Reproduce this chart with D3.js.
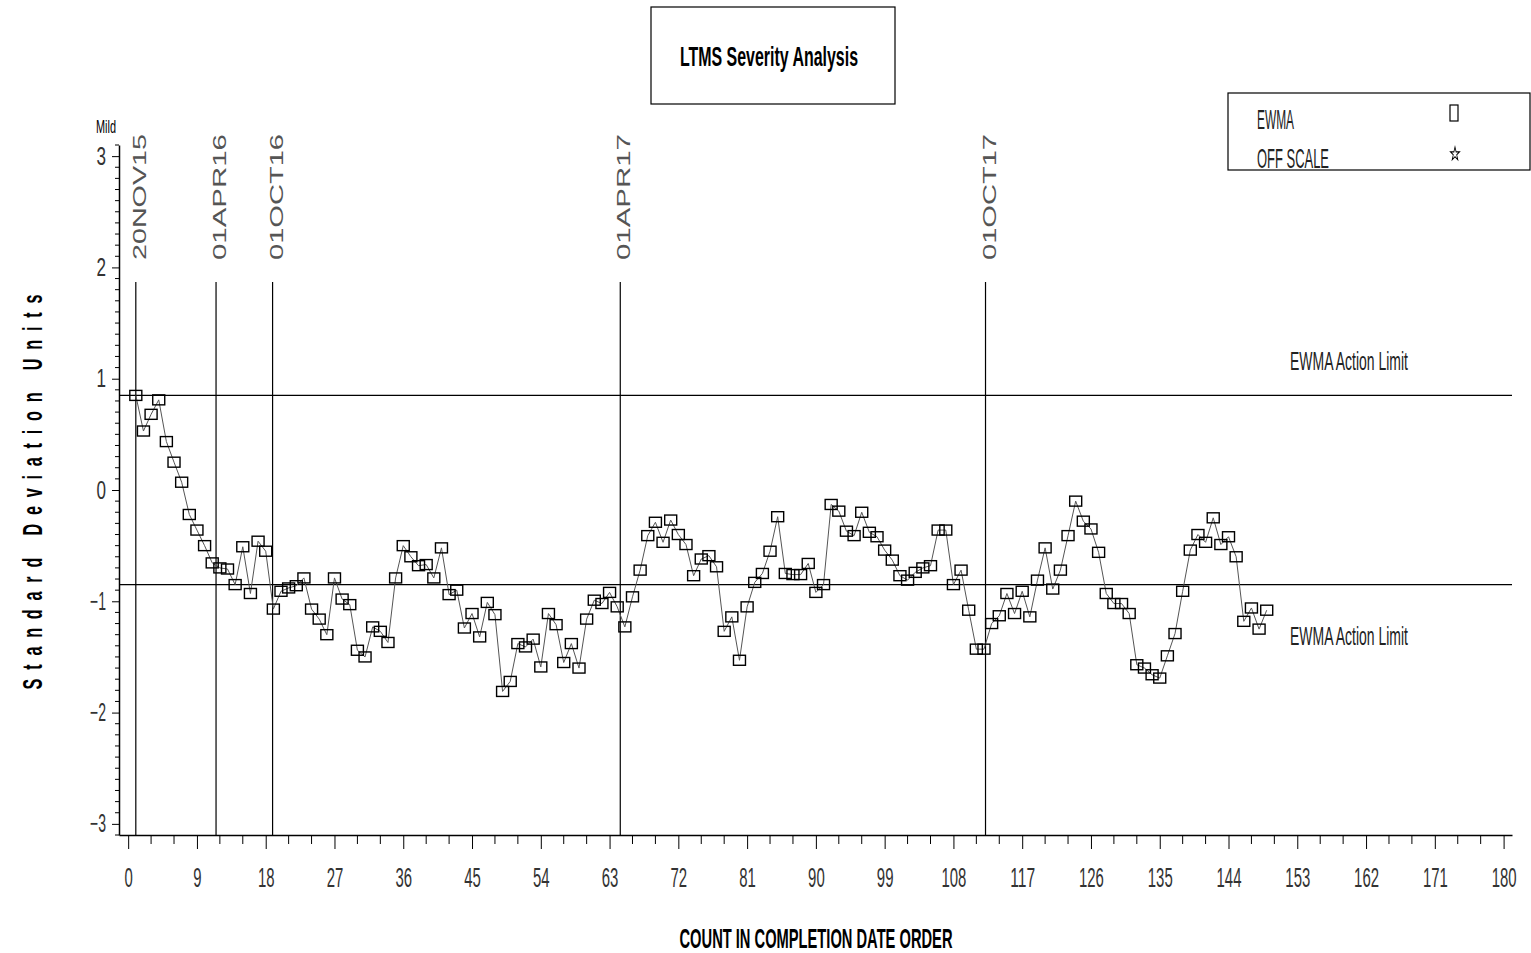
<!DOCTYPE html>
<html>
<head>
<meta charset="utf-8">
<script src="https://cdn.jsdelivr.net/npm/d3@7"></script>
<style>
  body { margin: 0; background: #fff; }
  text { font-family: "Liberation Sans", Arial, sans-serif; }
</style>
</head>
<body>
<div id="chart"></div>
<script>
const width = 1531
const height = 953

// EWMA values, count 1..149 in completion date order
const ewma = [
  0.85, 0.53, 0.68, 0.81, 0.435, 0.25, 0.07, -0.22, -0.36, -0.50,
  -0.655, -0.70, -0.71, -0.85, -0.51, -0.93, -0.46, -0.55, -1.07, -0.91,
  -0.88, -0.86, -0.79, -1.07, -1.16, -1.30, -0.79, -0.98, -1.03, -1.44,
  -1.50, -1.23, -1.27, -1.37, -0.79, -0.50, -0.60, -0.68, -0.67, -0.79,
  -0.52, -0.94, -0.90, -1.24, -1.11, -1.32, -1.01, -1.12, -1.81, -1.72,
  -1.38, -1.41, -1.34, -1.59, -1.11, -1.21, -1.55, -1.38, -1.60, -1.16,
  -0.99, -1.02, -0.92, -1.05, -1.23, -0.96, -0.72, -0.41, -0.29, -0.47,
  -0.27, -0.40, -0.49, -0.77, -0.62, -0.59, -0.69, -1.27, -1.14, -1.53,
  -1.05, -0.83, -0.75, -0.55, -0.24, -0.75, -0.76, -0.76, -0.66, -0.92,
  -0.85, -0.13, -0.19, -0.37, -0.41, -0.20, -0.38, -0.42, -0.54, -0.63,
  -0.77, -0.81, -0.74, -0.70, -0.68, -0.36, -0.36, -0.85, -0.72, -1.08,
  -1.43, -1.43, -1.20, -1.13, -0.93, -1.11, -0.91, -1.14, -0.81, -0.52,
  -0.89, -0.72, -0.41, -0.10, -0.28, -0.35, -0.56, -0.93, -1.02, -1.02,
  -1.11, -1.57, -1.60, -1.66, -1.69, -1.49, -1.29, -0.91, -0.54, -0.40,
  -0.47, -0.25, -0.49, -0.42, -0.60, -1.18, -1.06, -1.25, -1.08
]

// date markers (position in count units)
const dateLabels = ["20NOV15", "01APR16", "01OCT16", "01APR17", "01OCT17"]
const datePos = [1, 11.5, 18.9, 64.4, 112.2]

const actionLimits = [0.85, -0.85]
const xTicks = d3.range(0, 181, 9)
const xMinor = d3.range(0, 181, 3)
const yTicks = [-3, -2, -1, 0, 1, 2, 3]
const yMinor = d3.range(-31, 32).map(d => d / 10)

const svg = d3.select("#chart").append("svg").attr("width", width).attr("height", height)

const x = d3.scaleLinear().domain([-1.2, 181.1]).range([119, 1512])
const y = d3.scaleLinear().domain([-3.1, 3.1]).range([835, 145])

// title box
svg.append("rect").attr("x", 651).attr("y", 7).attr("width", 244).attr("height", 97)
  .attr("fill", "none").attr("stroke", "#000").attr("stroke-width", 1.2)
svg.append("text").attr("x", 769).attr("y", 66).attr("text-anchor", "middle")
  .attr("font-size", 28).attr("font-weight", "bold")
  .attr("textLength", 178).attr("lengthAdjust", "spacingAndGlyphs")
  .text("LTMS Severity Analysis")

// legend
svg.append("rect").attr("x", 1228).attr("y", 93).attr("width", 302).attr("height", 77)
  .attr("fill", "none").attr("stroke", "#000").attr("stroke-width", 1.2)
svg.append("text").attr("x", 1257).attr("y", 129).attr("font-size", 28).attr("fill", "#222")
  .attr("textLength", 37).attr("lengthAdjust", "spacingAndGlyphs").text("EWMA")
svg.append("text").attr("x", 1257).attr("y", 168).attr("font-size", 28).attr("fill", "#222")
  .attr("textLength", 72).attr("lengthAdjust", "spacingAndGlyphs").text("OFF SCALE")
svg.append("rect").attr("x", 1450).attr("y", 105).attr("width", 8).attr("height", 16)
  .attr("fill", "none").attr("stroke", "#000").attr("stroke-width", 1.2)
svg.append("path").attr("d", d3.symbol(d3.symbolStar, 40)())
  .attr("transform", "translate(1455,154) scale(0.8,1.2)")
  .attr("fill", "none").attr("stroke", "#000").attr("stroke-width", 1)

// axes
const xAxis = d3.axisBottom(x).tickValues(xTicks).tickSize(14).tickSizeOuter(0).tickFormat(d3.format("d"))
const xAxisGroup = svg.append("g").attr("transform", `translate(0, ${y(-3.1)})`).call(xAxis)
xAxisGroup.selectAll(".tick text")
  .attr("y", 52).attr("dy", 0).attr("font-size", 27).attr("fill", "#333")
  .attr("font-family", "Liberation Sans, Arial, sans-serif")
  .attr("textLength", d => String(d).length * 8.3).attr("lengthAdjust", "spacingAndGlyphs")
xAxisGroup.append("g").selectAll("line").data(xMinor.filter(d => d % 9 !== 0)).join("line")
  .attr("x1", d => x(d)).attr("x2", d => x(d)).attr("y1", 0).attr("y2", 9).attr("stroke", "#000")

const yAxis = d3.axisLeft(y).tickValues(yTicks).tickSize(7).tickSizeOuter(0)
  .tickFormat(d => d < 0 ? "\u2212" + Math.abs(d) : d)
const yAxisGroup = svg.append("g").attr("transform", `translate(${x(-1.2)}, 0)`).call(yAxis)
yAxisGroup.selectAll(".tick text")
  .attr("x", -13).attr("font-size", 25).attr("fill", "#333")
  .attr("font-family", "Liberation Sans, Arial, sans-serif")
  .attr("textLength", d => d < 0 ? 16 : 9.5).attr("lengthAdjust", "spacingAndGlyphs")
yAxisGroup.append("g").selectAll("line").data(yMinor.filter(d => Math.abs(d - Math.round(d)) > 0.01)).join("line")
  .attr("x1", -4).attr("x2", 0).attr("y1", d => y(d)).attr("y2", d => y(d)).attr("stroke", "#000")
svg.selectAll(".domain").attr("stroke-width", 1.5)

svg.append("text").attr("x", 96).attr("y", 133).attr("font-size", 18)
  .attr("textLength", 20).attr("lengthAdjust", "spacingAndGlyphs").text("Mild")

// axis titles
svg.append("text").attr("x", 816).attr("y", 948).attr("text-anchor", "middle")
  .attr("font-size", 28).attr("font-weight", "bold")
  .attr("textLength", 273).attr("lengthAdjust", "spacingAndGlyphs")
  .text("COUNT IN COMPLETION DATE ORDER")
svg.append("text").attr("transform", "translate(42, 492) rotate(-90) scale(0.6,1)")
  .attr("text-anchor", "middle").attr("font-size", 27).attr("font-weight", "bold")
  .attr("textLength", 658).attr("lengthAdjust", "spacing")
  .text("Standard  Deviation  Units")

// action limits
svg.append("g").selectAll("line").data(actionLimits).join("line")
  .attr("x1", x(-1.2)).attr("x2", 1512).attr("y1", d => y(d)).attr("y2", d => y(d))
  .attr("stroke", "#000").attr("stroke-width", 1.2)
svg.append("g").selectAll("text").data(actionLimits).join("text")
  .attr("x", 1290).attr("y", d => d > 0 ? 370 : 645).attr("font-size", 26).attr("fill", "#222")
  .attr("textLength", 118).attr("lengthAdjust", "spacingAndGlyphs")
  .text("EWMA Action Limit")

// date markers
const markers = svg.append("g")
markers.selectAll("line").data(datePos).join("line")
  .attr("x1", d => x(d)).attr("x2", d => x(d)).attr("y1", y(1.87)).attr("y2", y(-3.1))
  .attr("stroke", "#000").attr("stroke-width", 1.2)
markers.selectAll("text").data(dateLabels).join("text")
  .attr("transform", (d, i) => `translate(${x(datePos[i]) + 10}, 260) rotate(-90)`)
  .attr("font-size", 18).attr("fill", "#555")
  .attr("textLength", 126).attr("lengthAdjust", "spacingAndGlyphs")
  .text(d => d)

// EWMA series
const pts = ewma.map((v, i) => ({ n: i + 1, v: v }))
const line = d3.line().x(d => x(d.n)).y(d => y(d.v))
svg.append("path").datum(pts).attr("d", line)
  .attr("fill", "none").attr("stroke", "#555").attr("stroke-width", 1)
svg.append("g").selectAll("rect").data(pts).join("rect")
  .attr("x", d => x(d.n) - 6).attr("y", d => y(d.v) - 5)
  .attr("width", 12).attr("height", 10)
  .attr("fill", "none").attr("stroke", "#000").attr("stroke-width", 1.4)
</script>
</body>
</html>
